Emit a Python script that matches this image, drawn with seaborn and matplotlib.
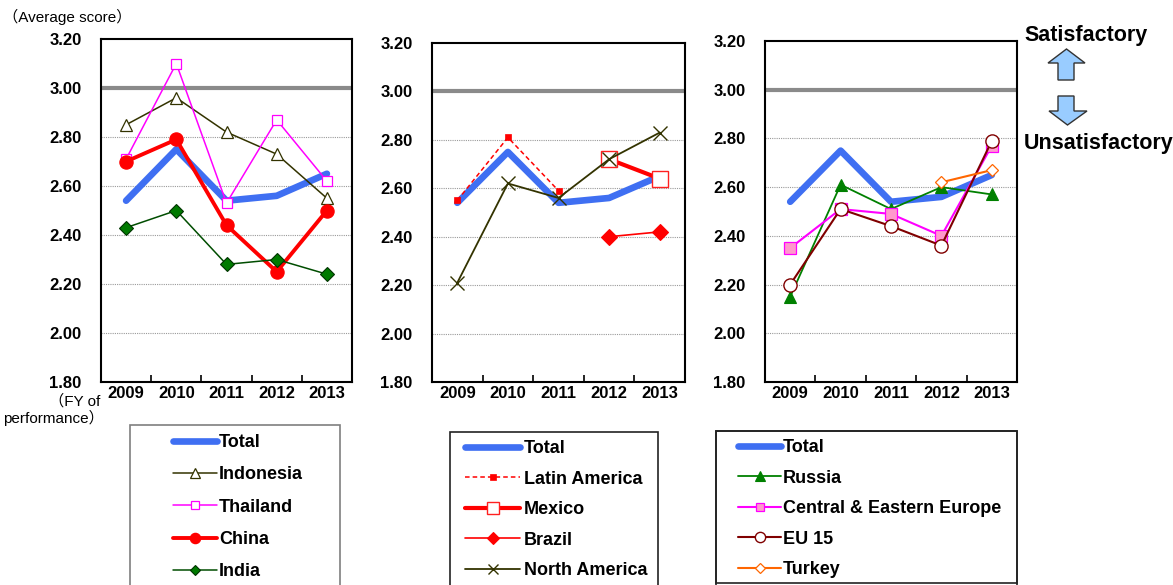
import numpy as np
import matplotlib
matplotlib.use("Agg")
import matplotlib.pyplot as plt
from matplotlib.patches import Polygon, Rectangle
import seaborn as sns

# ---- data -------------------------------------------------------------
years = ["2009", "2010", "2011", "2012", "2013"]
total = [2.54, 2.75, 2.54, 2.56, 2.65]

indonesia = [2.85, 2.96, 2.82, 2.73, 2.55]
thailand = [2.71, 3.10, 2.53, 2.87, 2.62]
china = [2.70, 2.79, 2.44, 2.25, 2.50]
india = [2.43, 2.50, 2.28, 2.30, 2.24]

latin_america = [2.55, 2.81, 2.59, np.nan, np.nan]
mexico = [np.nan, np.nan, np.nan, 2.72, 2.64]
brazil = [np.nan, np.nan, np.nan, 2.40, 2.42]
north_america = [2.21, 2.62, 2.56, 2.72, 2.83]

russia = [2.15, 2.61, 2.51, 2.60, 2.57]
central_eastern_europe = [2.35, 2.51, 2.49, 2.40, 2.77]
eu15 = [2.20, 2.51, 2.44, 2.36, 2.79]
turkey = [np.nan, np.nan, np.nan, 2.62, 2.67]

y_ticks = [1.80, 2.00, 2.20, 2.40, 2.60, 2.80, 3.00, 3.20]
grid_levels = [2.00, 2.20, 2.40, 2.60, 2.80]
benchmark = 3.00

# ---- styles -----------------------------------------------------------
TOTAL_STYLE = dict(color="#3f6ff2", linewidth=4.8, solid_capstyle="round",
                   marker=None)

panels = [
    [
        ("Indonesia", indonesia, dict(color="#333300", linewidth=1.1, marker="^",
                                      markersize=9, markerfacecolor="white",
                                      markeredgecolor="#333300", markeredgewidth=0.9)),
        ("Thailand", thailand, dict(color="#ff00ff", linewidth=1.1, marker="s",
                                    markersize=7.5, markerfacecolor="white",
                                    markeredgecolor="#ff00ff", markeredgewidth=0.9)),
        ("China", china, dict(color="#ff0000", linewidth=2.8, marker="o",
                              markersize=9.5, markerfacecolor="#ff0000",
                              markeredgecolor="#ff0000", markeredgewidth=0.9)),
        ("India", india, dict(color="#004d00", linewidth=1.1, marker="D",
                              markersize=7, markerfacecolor="#007a00",
                              markeredgecolor="#003300", markeredgewidth=0.8)),
    ],
    [
        ("Latin America", latin_america, dict(color="#ff0000", linewidth=1.1,
                                              linestyle=(0, (3, 2)), marker="s",
                                              markersize=5, markerfacecolor="#ff0000",
                                              markeredgecolor="#ff0000",
                                              markeredgewidth=0.5)),
        ("Mexico", mexico, dict(color="#ff0000", linewidth=3.0, marker="s",
                                markersize=11, markerfacecolor="white",
                                markeredgecolor="#ff2020", markeredgewidth=1.0)),
        ("Brazil", brazil, dict(color="#ff0000", linewidth=1.2, marker="D",
                                markersize=8, markerfacecolor="#ff0000",
                                markeredgecolor="#ff0000", markeredgewidth=0.8)),
        ("North America", north_america, dict(color="#333300", linewidth=1.3,
                                              marker="x", markersize=10,
                                              markeredgecolor="#333300",
                                              markeredgewidth=1.0)),
    ],
    [
        ("Russia", russia, dict(color="#008000", linewidth=1.3, marker="^",
                                markersize=9, markerfacecolor="#008000",
                                markeredgecolor="#008000", markeredgewidth=0.8)),
        ("Central & Eastern Europe", central_eastern_europe,
         dict(color="#ff00ff", linewidth=1.5, marker="s", markersize=8,
              markerfacecolor="#ff99cc", markeredgecolor="#ff00ff",
              markeredgewidth=0.9)),
        ("EU 15", eu15, dict(color="#800000", linewidth=1.5, marker="o",
                             markersize=9.5, markerfacecolor="white",
                             markeredgecolor="#800000", markeredgewidth=1.0)),
        ("Turkey", turkey, dict(color="#ff6600", linewidth=1.5, marker="D",
                                markersize=6.5, markerfacecolor="white",
                                markeredgecolor="#ff6600", markeredgewidth=0.9)),
    ],
]

# ---- figure -----------------------------------------------------------
sns.set_theme(style="white")
plt.rcParams["font.family"] = ["Liberation Sans", "Noto Sans CJK JP", "DejaVu Sans"]
plt.rcParams["text.color"] = "black"
plt.rcParams["xtick.color"] = "black"
plt.rcParams["ytick.color"] = "black"

W, H = 1173, 585
fig = plt.figure(figsize=(W / 100, H / 100), dpi=100)


def fx(px):
    return px / W


def fy(py):
    return 1 - py / H


# axes boxes in pixel units: left, top, right, bottom
axes_boxes = [(101, 39, 352, 382), (432, 43, 685, 382), (765, 41, 1017, 382)]
# legend layout: frame (left, top, right), entry anchor, handle length, text pad, spacing
legend_layout = [
    dict(box=(130, 425, 340), edge="#7f7f7f", anchor=(173, 434), hl=2.45, tp=0.1, sp=0.85),
    dict(box=(450, 432, 658), edge="#222222", anchor=(465, 440), hl=3.05, tp=0.22, sp=0.75),
    dict(box=(716, 431, 1017), edge="#222222", anchor=(738, 439), hl=2.4, tp=0.1, sp=0.75),
]

positions = np.arange(len(years))
tick_font = dict(family="Liberation Sans", weight="bold", size=12)

for (l, t, r, b), series, lay in zip(axes_boxes, panels, legend_layout):
    ax = fig.add_axes([fx(l), fy(b), (r - l) / W, (b - t) / H])

    for lvl in grid_levels:
        ax.axhline(lvl, color="#9a9a9a", linewidth=0.8, linestyle=(0, (1, 1)), zorder=0)
    ax.axhline(benchmark, color="#8a8a8a", linewidth=3.0, zorder=1)

    sns.lineplot(x=positions, y=total, ax=ax, label="Total", legend=False,
                 zorder=2, **TOTAL_STYLE)
    for k, (name, vals, style) in enumerate(series):
        sns.lineplot(x=positions, y=vals, ax=ax, label=name, legend=False,
                     zorder=3 + k, **style)

    ax.set_xlim(-0.5, len(years) - 0.5)
    ax.set_ylim(y_ticks[0], y_ticks[-1])
    ax.set_yticks(y_ticks)
    ax.set_yticklabels([f"{v:.2f}" for v in y_ticks], fontdict=tick_font)
    ax.set_xticks(positions)
    ax.set_xticklabels(years, fontdict=tick_font)
    ax.set_xticks(positions[:-1] + 0.5, minor=True)
    ax.tick_params(axis="y", length=0, pad=14)
    ax.tick_params(axis="x", which="major", length=0, pad=3)
    ax.tick_params(axis="x", which="minor", direction="in", length=5,
                   width=1.2, color="black", bottom=True)
    ax.set_xlabel("")
    ax.set_ylabel("")
    for sp in ax.spines.values():
        sp.set_visible(True)
        sp.set_color("black")
        sp.set_linewidth(1.5)

    handles, labels = ax.get_legend_handles_labels()
    bl, bt, br = lay["box"]
    fig.add_artist(Rectangle((fx(bl), fy(600)), (br - bl) / W, (600 - bt) / H,
                             transform=fig.transFigure, fill=False,
                             edgecolor=lay["edge"], linewidth=1.2))
    ax.legend(handles, labels, loc="upper left",
              bbox_to_anchor=(fx(lay["anchor"][0]), fy(lay["anchor"][1])),
              bbox_transform=fig.transFigure, frameon=False, borderpad=0,
              borderaxespad=0, handlelength=lay["hl"], handletextpad=lay["tp"],
              labelspacing=lay["sp"], markerscale=0.78,
              prop=dict(family="Liberation Sans", weight="bold", size=13))

# bottom edge of the third legend frame
fig.add_artist(Rectangle((fx(716), fy(583)), (1017 - 716) / W, (583 - 431) / H,
                         transform=fig.transFigure, fill=True, facecolor="none",
                         edgecolor="#222222", linewidth=1.2))

# ---- annotations ------------------------------------------------------
fig.text(fx(3), fy(17), "（Average score）", fontsize=11, va="center", ha="left")
fig.text(fx(100), fy(401), "（FY of", fontsize=11, va="center", ha="right")
fig.text(fx(104), fy(418), "performance）", fontsize=11, va="center", ha="right")

fig.text(fx(1024), fy(36), "Satisfactory", fontsize=15.5, weight="bold",
         va="center", ha="left")
fig.text(fx(1024), fy(144), "Unsatisfactory", fontsize=15.5, weight="bold",
         va="center", ha="left")

up_arrow = [(1066.5, 49), (1085, 63), (1074, 63), (1074, 80), (1058, 80),
            (1058, 63), (1048, 63)]
down_arrow = [(1058, 96), (1074, 96), (1074, 111), (1087, 111), (1067.5, 125),
              (1049, 111), (1058, 111)]
for pts in (up_arrow, down_arrow):
    fig.add_artist(Polygon([(fx(x), fy(y)) for x, y in pts], closed=True,
                           transform=fig.transFigure, facecolor="#99ccff",
                           edgecolor="#333333", linewidth=1.0))

fig.savefig("out.png", dpi=100)
